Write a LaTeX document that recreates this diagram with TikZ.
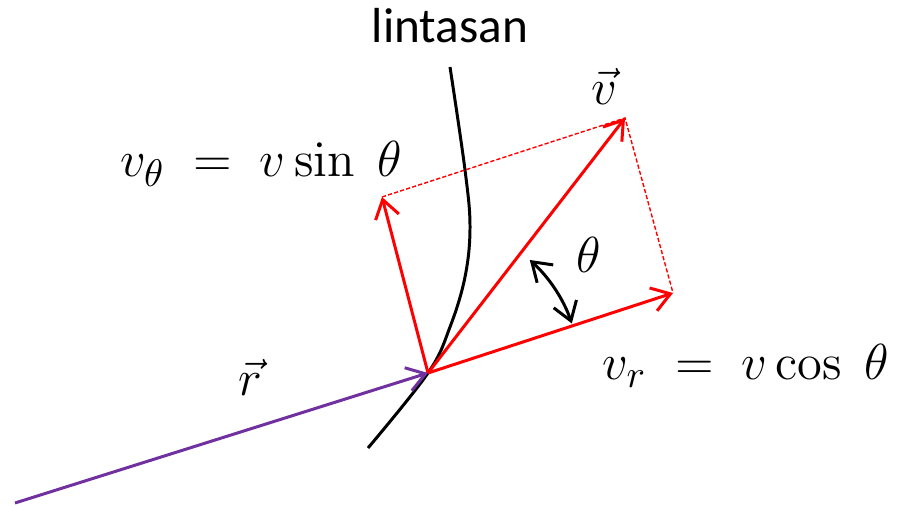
\documentclass[tikz,border=0pt]{standalone}
\usepackage[no-math]{fontspec}
\setmainfont{Liberation Serif}
\newfontfamily\pathfont{Carlito}
\usetikzlibrary{arrows.meta}
\definecolor{vecred}{HTML}{FF0000}
\definecolor{vecpurple}{HTML}{7030A0}

\begin{document}
\begin{tikzpicture}[x=0.01cm,y=0.01cm,>={Straight Barb[length=1.8mm,width=2.4mm]},
    vec/.style={->,line width=0.85pt},
    comp/.style={vecred,line width=0.4pt,dash pattern=on 1.2pt off 0.6pt},
    lbl/.style={font=\fontsize{15}{17}\selectfont,inner sep=0pt,anchor=base}]
  \useasboundingbox (0,0) rectangle (907,507);
  % points
  \coordinate (O) at (428,134);
  \coordinate (vtip) at (625,389);
  \coordinate (vrtip) at (673,214);
  \coordinate (vthtip) at (382,310);
  \coordinate (rstart) at (15,4);
  \coordinate (arcbeg) at ([shift={(19:1.52cm)}]O);
  % lintasan
  \draw[line width=0.85pt] plot[smooth,tension=0.6] coordinates {(450,440) (465,337) (470,280) (465,230) (450,180) (428,134) (368,59)};
  \node[font=\pathfont\fontsize{14}{16}\selectfont,inner sep=0pt,anchor=base] (lintasan) at (450,464) {lintasan};
  % komponen
  \draw[comp] (vthtip) -- (vtip) -- (vrtip);
  \draw[vec,vecred] (O) -- (vtip);
  \draw[vec,vecred] (O) -- (vrtip);
  \draw[vec,vecred] (O) -- (vthtip);
  \draw[vec,vecpurple] (rstart) -- (O);
  \draw[<->,line width=0.85pt] (arcbeg) arc[start angle=19,end angle=48,radius=1.52cm];
  % label
  \node[lbl] (vlab) at (604,402) {$\vec{v}$};
  \node[lbl] (rlab) at (250,111) {$\vec{r}$};
  \node[lbl] (thlab) at (589,234) {$\theta$};
  \node[lbl] (vthlab) at (261,330) {$v_{\theta}\;=\;v\sin\;\theta$};
  \node[lbl] (vrlab) at (746,127) {$v_{r}\;=\;v\cos\;\theta$};
\end{tikzpicture}
\end{document}
